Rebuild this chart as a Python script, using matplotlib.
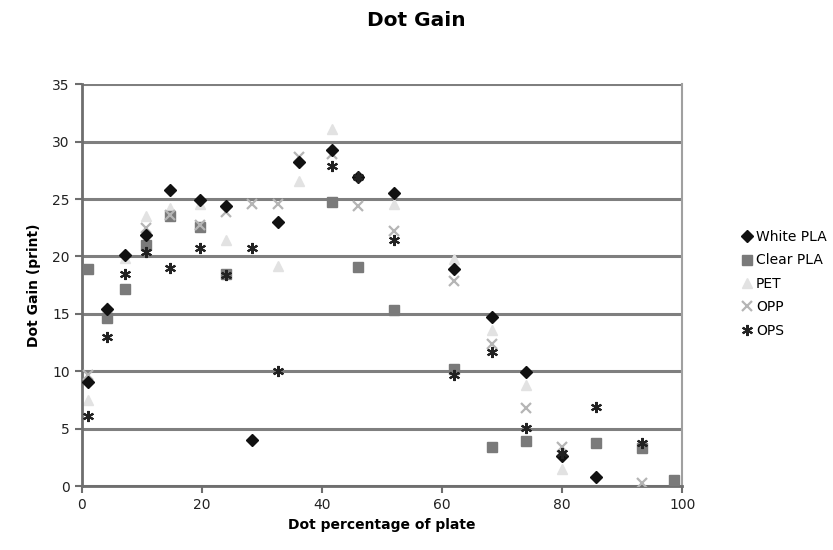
import numpy as np
import matplotlib.pyplot as plt

nan = np.nan

# Dot percentage on the plate
dot_pct = [1, 4.3, 7.2, 10.8, 14.7, 19.7, 24, 28.3, 32.7, 36.2,
           41.7, 46, 52, 62, 68.3, 74, 80, 85.7, 93.3, 98.7]

# Dot gain measured on each substrate
white_pla = [9.1, 15.4, 20.1, 21.9, 25.8, 24.9, 24.4, 4.0, 23.0, 28.2,
             29.3, 26.9, 25.5, 18.9, 14.7, 9.9, 2.6, 0.8, nan, nan]
clear_pla = [18.9, 14.6, 17.2, 21.0, 23.5, 22.6, 18.5, nan, nan, nan,
             24.7, 19.1, 15.3, 10.2, 3.4, 3.9, nan, 3.8, 3.3, 0.5]
pet = [7.5, 15.6, 19.9, 23.5, 24.2, 24.6, 21.4, nan, 19.2, 26.6,
       31.1, nan, 24.6, 19.8, 13.6, 8.8, 1.5, nan, nan, nan]
opp = [9.7, nan, nan, 22.5, 23.6, 22.7, 23.9, 24.6, 24.6, 28.7,
       28.9, 24.4, 22.2, 17.9, 12.4, 6.8, 3.4, nan, 0.3, nan]
ops = [6.1, 13.0, 18.5, 20.4, 19.0, 20.7, 18.4, 20.7, 10.0, nan,
       27.9, 26.9, 21.4, 9.7, 11.7, 5.1, 2.9, 6.9, 3.8, nan]

fig = plt.figure(figsize=(8.33, 5.5), dpi=100)
ax = fig.add_axes([0.098, 0.116, 0.721, 0.731])

ax.plot(dot_pct, white_pla, 'D', color='#111111', ms=6, label='White PLA', zorder=5)
ax.plot(dot_pct, clear_pla, 's', color='#7a7a7a', ms=7, label='Clear PLA', zorder=3)
ax.plot(dot_pct, pet, '^', color='#e2e2e2', ms=7, label='PET', zorder=2)
ax.plot(dot_pct, opp, 'x', color='#b5b5b5', ms=7, mew=1.6, label='OPP', zorder=4)
# asterisk marker: x with a vertical stroke
ax.plot(dot_pct, ops, marker=(6, 2, 0), ls='none', color='#222222', ms=8, mew=1.5,
        label='OPS', zorder=6)

ax.set_xlim(0, 100)
ax.set_ylim(0, 35)
ax.set_xticks(np.arange(0, 101, 20))
ax.set_yticks(np.arange(0, 36, 5))
ax.yaxis.grid(True, color='#7f7f7f', lw=2.2)
ax.set_axisbelow(True)

for side in ['left', 'bottom']:
    ax.spines[side].set_color('#6e6e6e')
    ax.spines[side].set_linewidth(2)
ax.spines['right'].set_color('#a0a0a0')
ax.spines['right'].set_linewidth(1.5)
ax.spines['top'].set_visible(False)
ax.tick_params(colors='#6e6e6e', width=1.5, length=5, labelcolor='#222222',
               labelsize=10)

ax.set_xlabel('Dot percentage of plate', fontsize=10, fontweight='bold', labelpad=4)
ax.set_ylabel('Dot Gain (print)', fontsize=10, fontweight='bold', labelpad=8)
fig.text(0.5, 0.963, 'Dot Gain', ha='center', va='center', fontsize=14.5,
         fontweight='bold')

fig.legend(loc='upper left', bbox_to_anchor=(0.885, 0.592), frameon=False,
           fontsize=10, handlelength=0.6, handletextpad=0.35, labelspacing=0.68,
           borderaxespad=0)

fig.savefig('out.png', dpi=100)
